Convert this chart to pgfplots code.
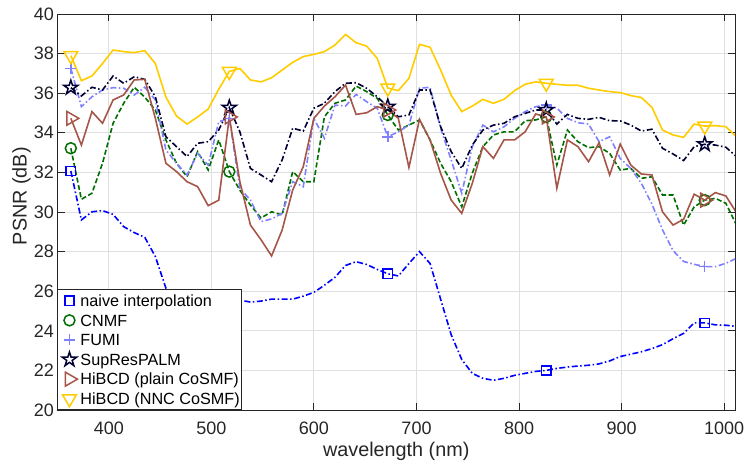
\documentclass[border=0pt]{standalone}
\usepackage{fontspec}
\setmainfont{Liberation Sans}
\usepackage{pgfplots}
\usepackage{pgfplotstable}
\pgfplotsset{compat=1.18}
\usetikzlibrary{plotmarks}
\definecolor{axgray}{RGB}{38,38,38}
\definecolor{gridgray}{RGB}{223,223,223}
\definecolor{naiveC}{RGB}{0,0,255}
\definecolor{cnmfC}{RGB}{0,110,0}
\definecolor{fumiC}{RGB}{128,128,255}
\definecolor{supC}{RGB}{0,0,51}
\definecolor{plainC}{RGB}{166,86,72}
\definecolor{nncC}{RGB}{255,204,0}
\pgfdeclareplotmark{pentagram}{%
  \pgfpathmoveto{\pgfpointpolar{90}{\pgfplotmarksize}}%
  \pgfpathlineto{\pgfpointpolar{126}{0.382\pgfplotmarksize}}%
  \pgfpathlineto{\pgfpointpolar{162}{\pgfplotmarksize}}%
  \pgfpathlineto{\pgfpointpolar{198}{0.382\pgfplotmarksize}}%
  \pgfpathlineto{\pgfpointpolar{234}{\pgfplotmarksize}}%
  \pgfpathlineto{\pgfpointpolar{270}{0.382\pgfplotmarksize}}%
  \pgfpathlineto{\pgfpointpolar{306}{\pgfplotmarksize}}%
  \pgfpathlineto{\pgfpointpolar{342}{0.382\pgfplotmarksize}}%
  \pgfpathlineto{\pgfpointpolar{18}{\pgfplotmarksize}}%
  \pgfpathlineto{\pgfpointpolar{54}{0.382\pgfplotmarksize}}%
  \pgfpathclose\pgfusepathqstroke}
\pgfplotstableread{
x naive cnmf fumi sup plain nnc
363.0 32.07 33.22 37.26 36.28 34.73 37.90
373.3 29.60 30.64 35.32 35.86 33.38 36.63
383.6 30.01 30.95 35.82 36.30 35.07 36.87
393.9 30.07 32.46 36.16 36.16 34.48 37.50
404.2 29.88 34.48 36.28 36.87 35.66 38.18
414.5 29.26 35.49 36.25 36.50 35.91 38.10
424.8 28.96 36.30 35.91 36.83 36.67 38.05
435.1 28.72 35.80 36.30 36.70 36.70 38.15
445.4 27.75 35.15 35.66 35.82 34.73 37.50
455.7 26.15 33.64 33.13 33.80 32.46 35.80
466.0 25.70 32.46 32.46 33.30 32.04 34.85
476.3 25.60 31.78 31.87 32.80 31.53 34.44
486.6 25.55 33.05 32.96 33.47 31.28 34.80
496.9 25.55 32.12 32.37 33.55 30.32 35.20
507.2 25.55 33.64 34.56 34.14 30.60 36.20
517.5 25.55 32.04 34.73 35.27 34.80 37.10
527.8 25.55 31.10 31.20 34.05 31.53 37.25
538.1 25.45 30.35 30.60 32.20 29.34 36.67
548.4 25.50 29.70 29.51 31.87 28.60 36.57
558.7 25.60 30.01 29.65 31.53 27.78 36.78
569.0 25.60 29.85 29.93 32.63 29.09 37.17
579.3 25.60 32.04 31.53 34.23 31.11 37.56
589.6 25.75 31.53 31.28 34.09 32.29 37.85
599.9 25.94 31.53 34.73 35.24 34.73 37.96
610.2 26.30 34.81 33.72 35.49 35.35 38.10
620.5 26.70 35.49 35.40 36.08 35.82 38.43
630.8 27.30 35.66 35.35 36.50 36.41 38.97
641.1 27.49 36.36 35.94 36.53 34.93 38.55
651.4 27.35 36.08 35.57 36.25 35.01 38.38
661.7 27.10 35.74 35.24 35.82 35.32 37.76
672.0 26.88 34.90 33.80 35.32 35.15 36.26
682.3 26.77 34.14 34.05 34.81 34.73 36.13
692.6 27.40 34.39 34.39 34.90 32.25 36.75
702.9 28.00 34.65 36.25 36.16 34.68 38.47
713.2 27.40 33.64 36.30 36.16 33.64 38.32
723.5 25.60 32.46 34.23 34.31 31.95 37.17
733.8 23.80 31.53 32.63 33.05 30.60 35.90
744.1 22.55 30.26 30.95 32.20 29.93 35.07
754.4 21.85 31.97 33.30 33.38 31.45 35.35
764.7 21.60 33.30 34.39 34.14 33.30 35.69
775.0 21.50 33.89 34.05 34.39 32.71 35.49
785.3 21.60 34.05 34.30 34.48 33.64 35.69
795.6 21.75 34.05 34.73 34.81 33.64 36.13
805.9 21.85 34.61 35.07 34.98 34.05 36.45
816.2 21.95 34.65 35.32 35.15 34.95 36.57
826.5 22.00 34.81 35.40 35.15 34.80 36.50
836.8 22.10 32.37 35.24 34.44 31.20 36.45
847.1 22.17 34.14 34.73 34.93 33.64 36.40
857.4 22.22 33.55 34.51 34.73 33.30 36.40
867.7 22.26 33.25 34.44 34.68 32.54 36.25
878.0 22.33 33.30 33.55 34.78 33.50 36.16
888.3 22.48 32.96 33.80 34.61 31.87 36.08
898.6 22.70 32.12 32.70 34.60 33.43 36.03
908.9 22.82 32.20 32.20 34.39 32.37 35.88
919.2 22.94 31.70 31.45 34.09 31.92 35.78
929.5 23.10 31.78 30.40 34.18 31.87 35.29
939.8 23.30 30.86 29.10 33.22 30.01 34.14
950.1 23.60 30.86 28.05 32.93 29.34 33.89
960.4 23.87 29.34 27.50 32.60 29.63 33.77
970.7 24.40 30.26 27.36 33.30 30.90 34.44
981.0 24.40 30.60 27.24 33.42 30.60 34.34
991.3 24.30 30.69 27.24 33.38 30.98 34.36
1001.6 24.28 30.44 27.41 33.27 30.81 34.31
1011.9 24.22 29.34 27.66 32.80 29.97 33.80
}\data
\tikzset{
  dashdotM/.style={dash pattern=on 6pt off 2.5pt on 1.5pt off 2.5pt},
  dashedM/.style={dash pattern=on 5pt off 2.5pt},
}
\begin{document}
\begin{tikzpicture}
\useasboundingbox (-57.5pt,-51pt) rectangle (687.5pt,410pt);
\begin{axis}[
  scale only axis, width=677.5pt, height=396pt,
  xmin=350, xmax=1010.5, ymin=20, ymax=40,
  xtick={400,500,600,700,800,900,1000},
  ytick={20,22,24,26,28,30,32,34,36,38,40},
  /pgf/number format/assume math mode=true,
  /pgf/number format/1000 sep={},
  tick label style={font=\fontsize{18}{18}\selectfont, text=axgray},
  xticklabel style={anchor=base, yshift=-24.3pt},
  label style={font=\fontsize{19.8}{20}\selectfont, text=axgray},
  xlabel={wavelength (nm)},
  ylabel={PSNR (dB)},
  xlabel style={at={(axis description cs:0.5,0)}, anchor=base, yshift=-46.7pt},
  ylabel style={at={(axis description cs:-0.04546,0.54)}, anchor=base},
  axis line style={draw=axgray, line width=0.9pt},
  tick style={draw=axgray, line width=0.9pt},
  major tick length=7pt, tick align=inside,
  grid=major, major grid style={draw=gridgray, line width=0.9pt},
  legend cell align=left,
  legend image code/.code={\path[draw=none,fill=none] (0pt,-5.8pt) rectangle (18pt,5.8pt);
    \begin{pgfinterruptboundingbox}\draw[#1] plot coordinates {(10pt,0pt)};\end{pgfinterruptboundingbox}},
  legend style={at={(0,0)}, anchor=south west, draw=axgray, line width=0.9pt, fill=white,
    font=\fontsize{16.2}{19}\selectfont, inner xsep=1.5pt, inner ysep=5pt,
    nodes={inner sep=0pt, text height=11.6pt, text depth=0pt},
    /tikz/row sep=8pt, /tikz/column sep=3pt},
]
\addplot[naiveC, line width=1.6pt, dashdotM, forget plot] table[x=x,y=naive]{\data};
\addplot[cnmfC, line width=1.6pt, dashedM, forget plot] table[x=x,y=cnmf]{\data};
\addplot[fumiC, line width=1.6pt, dashdotM, forget plot] table[x=x,y=fumi]{\data};
\addplot[supC, line width=1.6pt, dashdotM, forget plot] table[x=x,y=sup]{\data};
\addplot[plainC, line width=1.6pt, solid, forget plot] table[x=x,y=plain]{\data};
\addplot[nncC, line width=1.6pt, solid, forget plot] table[x=x,y=nnc]{\data};

\addplot[naiveC, only marks, mark=square, mark size=4.6pt, line width=1.5pt, mark repeat=15, mark phase=1] table[x=x,y=naive]{\data};
\addlegendentry{naive interpolation}
\addplot[cnmfC, only marks, mark=o, mark size=5.5pt, line width=1.5pt, mark repeat=15, mark phase=1] table[x=x,y=cnmf]{\data};
\addlegendentry{CNMF}
\addplot[fumiC, only marks, mark=+, mark size=5.5pt, line width=1.5pt, mark repeat=15, mark phase=1] table[x=x,y=fumi]{\data};
\addlegendentry{FUMI}
\addplot[supC, only marks, mark=pentagram, mark size=7.5pt, line width=1.5pt, mark repeat=15, mark phase=1] table[x=x,y=sup]{\data};
\addlegendentry{SupResPALM}
\addplot[plainC, only marks, mark=triangle, mark size=8pt, mark options={rotate=-90}, line width=1.5pt, mark repeat=15, mark phase=1] table[x=x,y=plain]{\data};
\addlegendentry{HiBCD (plain CoSMF)}
\addplot[nncC, only marks, mark=triangle, mark size=8pt, mark options={rotate=180}, line width=1.5pt, mark repeat=15, mark phase=1] table[x=x,y=nnc]{\data};
\addlegendentry{HiBCD (NNC CoSMF)}
\end{axis}
\end{tikzpicture}
\end{document}
